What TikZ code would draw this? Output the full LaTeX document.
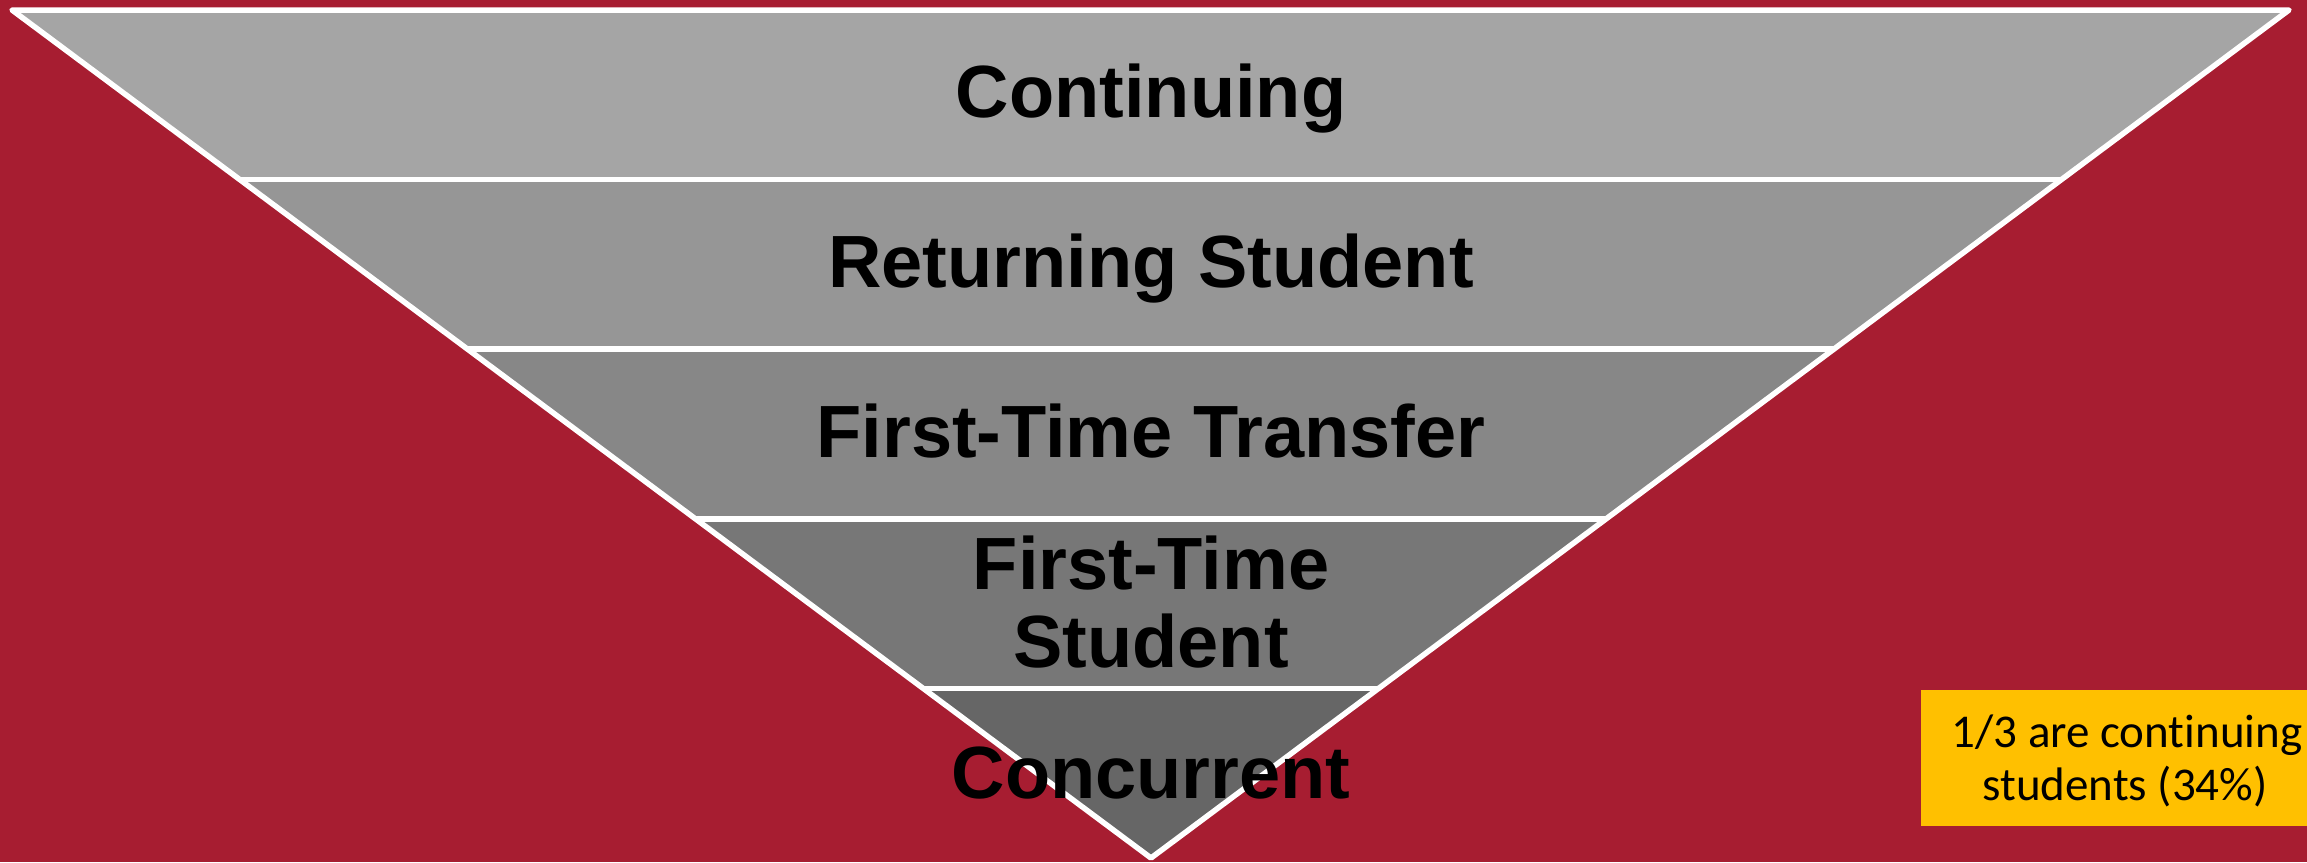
\documentclass[tikz,border=0pt]{standalone}
\usepackage{fontspec}
\setmainfont{Liberation Sans}
\newfontfamily\boxfont[Ligatures={NoCommon}]{Carlito}
\definecolor{crimson}{HTML}{A71D31}
\definecolor{bandA}{HTML}{A5A5A5}
\definecolor{bandB}{HTML}{969696}
\definecolor{bandC}{HTML}{878787}
\definecolor{bandD}{HTML}{777777}
\definecolor{bandE}{HTML}{666666}
\definecolor{noteyellow}{HTML}{FFC000}
\tikzset{
  sep/.style={draw=white, line width=5.5pt},
  outline/.style={draw=white, line width=5.5pt, line join=round},
  bandtext/.style={font=\fontsize{74}{77}\selectfont\bfseries, text=black, inner sep=0pt, anchor=base},
  notetext/.style={font=\boxfont\fontsize{47}{53}\selectfont, text=black, inner sep=0pt, anchor=base}
}
\begin{document}
\begin{tikzpicture}[x=1pt,y=-1pt]
\clip (0,0) rectangle (2307,862);
\fill[crimson] (0,0) rectangle (2307,862);
% boundary coordinates
\coordinate (L0) at (12,10);     \coordinate (R0) at (2289,10);
\coordinate (L1) at (239.8,179.6); \coordinate (R1) at (2061.4,179.6);
\coordinate (L2) at (467.6,349.2); \coordinate (R2) at (1833.8,349.2);
\coordinate (L3) at (695.4,518.8); \coordinate (R3) at (1606.2,518.8);
\coordinate (L4) at (923.2,688.4); \coordinate (R4) at (1378.6,688.4);
\coordinate (T) at (1151,858);
% bands
\fill[bandA] (L0) -- (R0) -- (R1) -- (L1) -- cycle;
\fill[bandB] (L1) -- (R1) -- (R2) -- (L2) -- cycle;
\fill[bandC] (L2) -- (R2) -- (R3) -- (L3) -- cycle;
\fill[bandD] (L3) -- (R3) -- (R4) -- (L4) -- cycle;
\fill[bandE] (L4) -- (R4) -- (T) -- cycle;
% separators
\draw[sep] (L1) -- (R1);
\draw[sep] (L2) -- (R2);
\draw[sep] (L3) -- (R3);
\draw[sep] (L4) -- (R4);
\draw[outline] (L0) -- (R0) -- (T) -- cycle;
% labels
\node[bandtext] (t1) at (1151,117) {Continuing};
\node[bandtext] (t2) at (1151,287) {Returning Student};
\node[bandtext] (t3) at (1151,457) {First-Time Transfer};
\node[bandtext] (t4a) at (1151,589) {First-Time};
\node[bandtext] (t4b) at (1151,667) {Student};
\node[bandtext] (t5) at (1151,798) {Concurrent};
% note box
\fill[noteyellow] (1921,690) rectangle (2340,826);
\node[notetext] (note1) at (2127,747) {1/3 are continuing};
\node[notetext] (note2) at (2125,800) {students (34\%)};
\end{tikzpicture}
\end{document}
